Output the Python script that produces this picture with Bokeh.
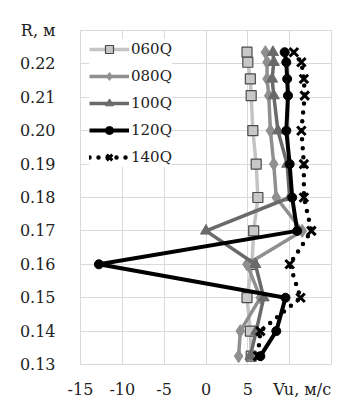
from bokeh.plotting import figure
from bokeh.models import FixedTicker, PrintfTickFormatter, Range1d
from bokeh.embed import file_html
from bokeh.resources import INLINE

# Radius, m
R = [0.2235, 0.2205, 0.2155, 0.2105, 0.20, 0.19, 0.18, 0.17, 0.16, 0.15, 0.14, 0.1325]
# Vu, m/s per regime
v060 = [4.9, 5.0, 5.3, 5.4, 5.6, 6.0, 6.2, 5.7, 5.5, 4.9, 5.3, 5.4]
v080 = [7.1, 7.3, 7.3, 7.5, 7.7, 8.1, 8.4, 11.5, 4.9, 6.5, 4.1, 3.9]
v100 = [8.0, 8.1, 7.9, 8.1, 8.6, 9.7, 10.0, 0.0, 5.9, 6.9, 6.0, 5.3]
v120 = [9.4, 9.6, 9.7, 9.8, 9.6, 10.0, 10.3, 10.9, -12.8, 9.5, 8.4, 6.5]
v140 = [10.5, 11.4, 11.7, 11.8, 11.4, 11.7, 11.7, 12.6, 10.0, 11.3, 6.5, 6.2]

x_ticks = [-15, -10, -5, 0, 5]
x_tick_labels = ["-15", "-10", "-5", "0", "5"]
x_title = "Vu, м/с"
x_title_pos = 11.5
x_grid = [-15, -10, -5, 0, 5, 10, 15]
y_ticks = [0.13, 0.14, 0.15, 0.16, 0.17, 0.18, 0.19, 0.20, 0.21, 0.22]
y_title = "R, м"
y_title_pos = 0.23
y_grid = y_ticks + [0.23]

FONT = "DejaVu Serif"

p = figure(width=338, height=401, x_range=Range1d(-15, 15), y_range=Range1d(0.13, 0.23),
           output_backend="svg", toolbar_location=None,
           min_border_left=80, min_border_right=7, min_border_top=30, min_border_bottom=26)
p.background_fill_color = "white"
p.border_fill_color = "white"
p.outline_line_color = "#d9d9d9"

p.xaxis.ticker = FixedTicker(ticks=x_ticks + [x_title_pos])
p.xgrid.ticker = FixedTicker(ticks=x_grid)
p.yaxis.ticker = FixedTicker(ticks=y_ticks + [y_title_pos])
p.ygrid.ticker = FixedTicker(ticks=y_grid)
p.yaxis.formatter = PrintfTickFormatter(format="%.2f")
xo = {t: s for t, s in zip(x_ticks, x_tick_labels)}
xo[x_title_pos] = x_title
p.xaxis.major_label_overrides = xo
p.yaxis.major_label_overrides = {y_title_pos: y_title}
for g in (p.xgrid, p.ygrid):
    g.grid_line_color = "#d9d9d9"
    g.grid_line_width = 1
for ax in (p.xaxis, p.yaxis):
    ax.axis_line_color = None
    ax.major_tick_line_color = None
    ax.minor_tick_line_color = None
    ax.major_label_text_color = "#222222"
    ax.major_label_text_font = FONT
p.yaxis.major_label_text_font_size = "16px"
p.xaxis.major_label_text_font_size = "16px"
p.yaxis.major_label_standoff = 19
p.xaxis.major_label_standoff = 9

lw = 3.5
# 060Q
p.line(v060, R, line_color="#c4c4c4", line_width=lw, legend_label="060Q")
p.scatter(v060, R, marker="square", size=10, fill_color="#c8c8c8", line_color="#4a4a4a",
          line_width=1.2, legend_label="060Q")
# 080Q
p.line(v080, R, line_color="#8f8f8f", line_width=lw, legend_label="080Q")
p.scatter(v080, R, marker="diamond", size=13, fill_color="#8f8f8f", line_color="#8f8f8f",
          legend_label="080Q")
# 100Q
p.line(v100, R, line_color="#6a6a6a", line_width=lw, legend_label="100Q")
p.scatter(v100, R, marker="triangle", size=11, fill_color="#6a6a6a", line_color="#6a6a6a",
          legend_label="100Q")
# 120Q
p.line(v120, R, line_color="black", line_width=4, legend_label="120Q")
p.scatter(v120, R, marker="circle", size=9, fill_color="black", line_color="black",
          legend_label="120Q")
# 140Q
p.line(v140, R, line_color="black", line_width=4.5, line_dash="0 9", line_cap="round",
       legend_label="140Q")
p.scatter(v140, R, marker="x", size=12, line_color="black", line_width=3,
          legend_label="140Q")

lg = p.legend[0]
lg.location = "top_left"
lg.margin = 9
lg.padding = 4
lg.spacing = 7
lg.glyph_width = 40
lg.glyph_height = 20
lg.label_standoff = 2
lg.label_text_font = FONT
lg.label_text_font_size = "15px"
lg.label_text_color = "#222222"
lg.border_line_color = None
lg.background_fill_color = "white"
lg.background_fill_alpha = 1.0

open("out.html", "w").write(file_html(p, INLINE))
